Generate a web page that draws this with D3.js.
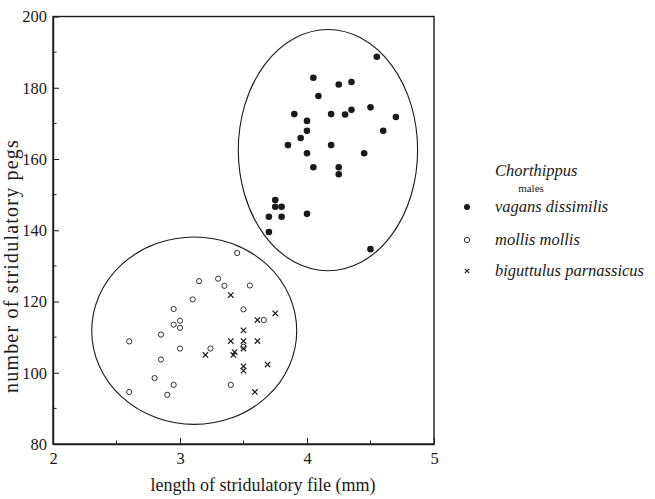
<!DOCTYPE html>
<html>
<head>
<meta charset="utf-8">
<script src="https://cdn.jsdelivr.net/npm/d3@7/dist/d3.min.js"></script>
<style>
  html, body { margin: 0; padding: 0; background: #fff; }
  svg { display: block; font-family: "Liberation Serif", "Times New Roman", serif; }
</style>
</head>
<body>
<svg id="chart" width="655" height="499"></svg>
<script>
// Stridulatory file length (mm) vs. number of pegs, Chorthippus males
const vagansLength = [4.55, 4.05, 4.25, 4.35, 4.09, 3.90, 4.19, 4.30, 4.35, 4.50, 4.70, 4.00, 4.00, 3.95, 4.60,
                      3.85, 4.19, 4.00, 4.45, 4.05, 4.25, 4.25, 3.75, 3.75, 3.80, 3.70, 3.80, 4.00, 3.70, 4.50];
const vagansPegs   = [188.7, 182.8, 180.9, 181.6, 177.7, 172.6, 172.6, 172.5, 173.8, 174.5, 171.8, 170.7, 167.9, 165.9, 167.9,
                      163.9, 163.9, 161.6, 161.6, 157.7, 157.7, 155.7, 148.5, 146.6, 146.6, 143.8, 143.8, 144.6, 139.5, 134.7];

const mollisLength = [3.45, 3.15, 3.30, 3.35, 3.55, 3.10, 2.95, 3.50, 3.00, 2.95, 3.00, 3.66,
                      2.85, 2.60, 3.00, 3.24, 3.50, 2.85, 2.80, 2.95, 2.60, 2.90, 3.40];
const mollisPegs   = [133.6, 125.7, 126.4, 124.4, 124.5, 120.6, 117.9, 117.8, 114.6, 113.5, 112.6, 114.8,
                      110.7, 108.8, 106.8, 106.8, 107.3, 103.7, 98.5, 96.6, 94.6, 93.8, 96.6];

const biguttulusLength = [3.40, 3.75, 3.61, 3.50, 3.40, 3.50, 3.61, 3.50, 3.43, 3.42, 3.20, 3.69, 3.50, 3.50, 3.59];
const biguttulusPegs   = [121.8, 116.7, 114.8, 111.9, 108.9, 108.9, 108.9, 106.8, 105.8, 105.0, 105.0, 102.3, 101.8, 100.6, 94.6];

// Grouping ellipses (centre and semi-axes, in data units)
const ellipseCx = [4.165, 3.112];
const ellipseCy = [162.5, 111.8];
const ellipseRx = [0.706, 0.807];
const ellipseRy = [33.85, 26.3];

const xMajorTicks = [2, 3, 4, 5];
const xMinorTicks = [2.5, 3.5, 4.5];
const yMajorTicks = [80, 100, 120, 140, 160, 180, 200];
const yMinorTicks = [90, 110, 130, 150, 170, 190];

const legendTitle = "Chorthippus";
const legendSubtitle = "males";
const speciesNames = ["vagans dissimilis", "mollis mollis", "biguttulus parnassicus"];
const xTitle = "length of stridulatory file (mm)";
const yTitle = "number of stridulatory pegs";

const svg = d3.select("#chart");
const plotLeft = 53, plotRight = 434, plotTop = 16.5, plotBottom = 444;
const ink = "#1a1a1a";

const x = d3.scaleLinear().domain([2, 5]).range([plotLeft, plotRight]);
const y = d3.scaleLinear().domain([80, 200]).range([plotBottom, plotTop]);

// frame
svg.append("rect")
  .attr("x", plotLeft).attr("y", plotTop)
  .attr("width", plotRight - plotLeft).attr("height", plotBottom - plotTop)
  .attr("fill", "none").attr("stroke", ink).attr("stroke-width", 1.4);

// axes with inward ticks
const xAxis = svg.append("g").attr("transform", `translate(0,${plotBottom})`)
  .call(d3.axisBottom(x).tickValues(xMajorTicks).tickFormat(d3.format("d")).tickSizeInner(-6).tickSizeOuter(0).tickPadding(8));
xAxis.append("g").selectAll("line").data(xMinorTicks).join("line")
  .attr("x1", d => x(d)).attr("x2", d => x(d)).attr("y1", 0).attr("y2", -3.5)
  .attr("stroke", ink);

const yAxis = svg.append("g").attr("transform", `translate(${plotLeft},0)`)
  .call(d3.axisLeft(y).tickValues(yMajorTicks).tickFormat(d3.format("d")).tickSizeInner(-6).tickSizeOuter(0).tickPadding(6));
yAxis.append("g").selectAll("line").data(yMinorTicks).join("line")
  .attr("x1", 0).attr("x2", 3.5).attr("y1", d => y(d)).attr("y2", d => y(d))
  .attr("stroke", ink);

[xAxis, yAxis].forEach(g => {
  g.select(".domain").attr("stroke", ink).attr("stroke-width", 1.4);
  g.selectAll(".tick line").attr("stroke", ink);
  g.selectAll("text").attr("font-family", "Liberation Serif").attr("font-size", 16.5).attr("fill", ink);
});

// axis titles
svg.append("text")
  .attr("x", 263).attr("y", 491)
  .attr("text-anchor", "middle").attr("font-size", 18).attr("fill", ink)
  .text(xTitle);
svg.append("text")
  .attr("transform", "translate(18,266) rotate(-90)")
  .attr("text-anchor", "middle").attr("font-size", 20).attr("letter-spacing", 1.2).attr("fill", ink)
  .text(yTitle);

// ellipses
const ellipses = d3.range(ellipseCx.length).map(i => ({
  cx: ellipseCx[i], cy: ellipseCy[i], rx: ellipseRx[i], ry: ellipseRy[i]
}));
svg.append("g").selectAll("ellipse").data(ellipses).join("ellipse")
  .attr("cx", d => x(d.cx)).attr("cy", d => y(d.cy))
  .attr("rx", d => x(d.cx + d.rx) - x(d.cx))
  .attr("ry", d => y(d.cy) - y(d.cy + d.ry))
  .attr("fill", "none").attr("stroke", ink).attr("stroke-width", 1.1);

// points
const zip = (a, b) => a.map((v, i) => [v, b[i]]);
const vagans = zip(vagansLength, vagansPegs);
const mollis = zip(mollisLength, mollisPegs);
const biguttulus = zip(biguttulusLength, biguttulusPegs);

svg.append("g").selectAll("circle").data(mollis).join("circle")
  .attr("cx", d => x(d[0])).attr("cy", d => y(d[1])).attr("r", 2.6)
  .attr("fill", "none").attr("stroke", ink).attr("stroke-width", 0.9);

const cross = s => `M${-s},${-s}L${s},${s}M${-s},${s}L${s},${-s}`;
svg.append("g").selectAll("path").data(biguttulus).join("path")
  .attr("transform", d => `translate(${x(d[0])},${y(d[1])})`)
  .attr("d", cross(2.7))
  .attr("fill", "none").attr("stroke", ink).attr("stroke-width", 1.2);

svg.append("g").selectAll("circle").data(vagans).join("circle")
  .attr("cx", d => x(d[0])).attr("cy", d => y(d[1])).attr("r", 3.3)
  .attr("fill", ink);

// legend
const lg = svg.append("g");
const markerX = 467, textX = 495;
lg.append("text").attr("x", textX).attr("y", 176)
  .attr("font-style", "italic").attr("font-size", 16.5).attr("fill", ink).text(legendTitle);
lg.append("text").attr("x", 531).attr("y", 192).attr("text-anchor", "middle")
  .attr("font-size", 11).attr("fill", ink).text(legendSubtitle);

const rows = [207, 240, 271];
lg.append("circle").attr("cx", markerX).attr("cy", rows[0]).attr("r", 3).attr("fill", ink);
lg.append("circle").attr("cx", markerX).attr("cy", rows[1]).attr("r", 2.6)
  .attr("fill", "none").attr("stroke", ink).attr("stroke-width", 0.9);
lg.append("path").attr("transform", `translate(${markerX},${rows[2]})`).attr("d", cross(2.2))
  .attr("fill", "none").attr("stroke", ink).attr("stroke-width", 1.1);
lg.selectAll("text.item").data(speciesNames).join("text")
  .attr("class", "item")
  .attr("x", textX).attr("y", (d, i) => rows[i] + 5)
  .attr("font-style", "italic").attr("font-size", 16.5).attr("fill", ink)
  .text(d => d);
</script>
</body>
</html>
